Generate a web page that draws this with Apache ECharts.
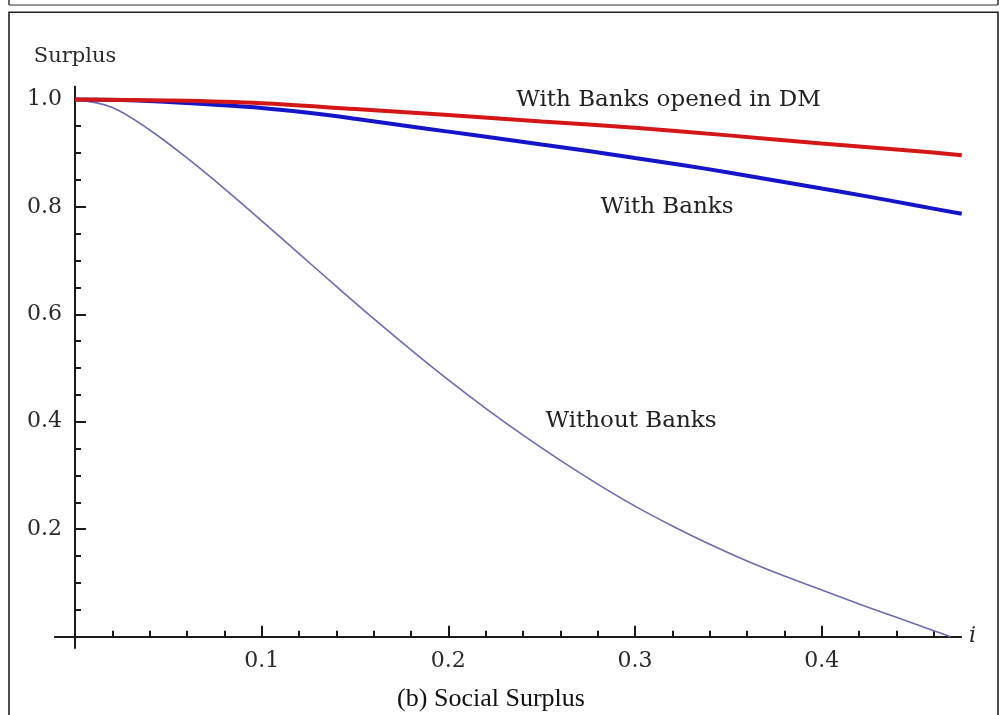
<!DOCTYPE html>
<html>
<head>
<meta charset="utf-8">
<title>Social Surplus</title>
<script src="https://cdn.jsdelivr.net/npm/echarts@6/dist/echarts.min.js"></script>
<style>
  html, body { margin: 0; padding: 0; background: #fff; }
  #chart { width: 1000px; height: 715px; }
</style>
</head>
<body>
<div id="chart"></div>
<script>
// Social surplus as a function of the nominal interest rate i
const iWithoutBanks = [0, 0.02, 0.04, 0.06, 0.08, 0.10, 0.12, 0.14, 0.16, 0.18, 0.20, 0.22, 0.24, 0.26, 0.28, 0.30, 0.32, 0.34, 0.36, 0.38, 0.40, 0.42, 0.44, 0.46, 0.469];
const surplusWithoutBanks = [1.000, 0.985, 0.943, 0.891, 0.834, 0.774, 0.713, 0.652, 0.592, 0.534, 0.478, 0.425, 0.375, 0.328, 0.284, 0.243, 0.206, 0.172, 0.141, 0.113, 0.087, 0.061, 0.036, 0.011, 0.000];

const iWithBanks = [0, 0.025, 0.05, 0.075, 0.10, 0.125, 0.15, 0.175, 0.20, 0.225, 0.25, 0.275, 0.30, 0.325, 0.35, 0.375, 0.40, 0.425, 0.45, 0.475];
const surplusWithBanks = [1.000, 0.999, 0.995, 0.990, 0.984, 0.975, 0.964, 0.952, 0.940, 0.928, 0.916, 0.904, 0.891, 0.878, 0.864, 0.849, 0.834, 0.819, 0.803, 0.787];

const iBanksDM = [0, 0.05, 0.10, 0.15, 0.20, 0.25, 0.30, 0.35, 0.40, 0.45, 0.475];
const surplusBanksDM = [1.000, 0.998, 0.993, 0.982, 0.971, 0.959, 0.947, 0.933, 0.918, 0.904, 0.896];

// Tick positions
const xMajorTicks = [0.1, 0.2, 0.3, 0.4];
const xMinorTicks = [0.02, 0.04, 0.06, 0.08, 0.12, 0.14, 0.16, 0.18, 0.22, 0.24, 0.26, 0.28, 0.32, 0.34, 0.36, 0.38, 0.42, 0.44, 0.46];
const yMajorTicks = [0.2, 0.4, 0.6, 0.8, 1.0];
const yMinorTicks = [0.05, 0.1, 0.15, 0.25, 0.3, 0.35, 0.45, 0.5, 0.55, 0.65, 0.7, 0.75, 0.85, 0.9, 0.95];

// Curve annotations: text and the (i, surplus) point it is centred on
const curveNotes = [
  { text: 'With Banks opened in DM', at: [0.3179, 0.9987] },
  { text: 'With Banks', at: [0.3171, 0.7997] },
  { text: 'Without Banks', at: [0.2978, 0.401] }
];

const pairs = (xs, ys) => xs.map((x, k) => [x, ys[k]]);

const ink = '#1a1a1a';
const serif = 'DejaVu Serif';
const X_MIN = -0.0107, X_MAX = 0.4746, Y_MIN = -0.0205, Y_MAX = 1.0236;

const axisLineStyle = { color: ink, width: 2 };

const chart = echarts.init(document.getElementById('chart'));
chart.setOption({
  animation: false,
  backgroundColor: '#fff',
  grid: { left: 55, right: 39, top: 86.7, bottom: 67.3, containLabel: false },
  xAxis: [
    {
      type: 'value', min: X_MIN, max: X_MAX, position: 'bottom',
      axisLine: { show: true, onZero: true, lineStyle: axisLineStyle },
      axisTick: { show: true, inside: true, length: 11, customValues: xMajorTicks, lineStyle: { color: ink, width: 2 } },
      axisLabel: { show: true, customValues: xMajorTicks, margin: 3, color: '#2a2a2a', fontFamily: serif, fontSize: 22, formatter: v => v.toFixed(1) },
      splitLine: { show: false },
      name: 'i', nameLocation: 'end', nameGap: 8,
      nameTextStyle: { fontFamily: serif, fontStyle: 'italic', fontSize: 22, color: '#2a2a2a', verticalAlign: 'middle' }
    },
    {
      type: 'value', min: X_MIN, max: X_MAX, position: 'bottom',
      axisLine: { show: true, onZero: true, lineStyle: axisLineStyle },
      axisTick: { show: true, inside: true, length: 6, customValues: xMinorTicks, lineStyle: { color: ink, width: 2 } },
      axisLabel: { show: false },
      splitLine: { show: false }
    }
  ],
  yAxis: [
    {
      type: 'value', min: Y_MIN, max: Y_MAX, position: 'left',
      axisLine: { show: true, onZero: true, lineStyle: axisLineStyle },
      axisTick: { show: true, inside: true, length: 11, customValues: yMajorTicks, lineStyle: { color: ink, width: 2 } },
      axisLabel: { show: true, customValues: yMajorTicks, margin: -7, color: '#2a2a2a', fontFamily: serif, fontSize: 22, formatter: v => v.toFixed(1) },
      splitLine: { show: false },
      name: 'Surplus', nameLocation: 'end', nameGap: 20,
      nameTextStyle: { fontFamily: serif, fontSize: 21, color: '#2a2a2a', align: 'center' }
    },
    {
      type: 'value', min: Y_MIN, max: Y_MAX, position: 'left',
      axisLine: { show: true, onZero: true, lineStyle: axisLineStyle },
      axisTick: { show: true, inside: true, length: 6, customValues: yMinorTicks, lineStyle: { color: ink, width: 2 } },
      axisLabel: { show: false },
      splitLine: { show: false }
    }
  ],
  series: [
    {
      name: 'Without Banks', type: 'line', xAxisIndex: 0, yAxisIndex: 0,
      data: pairs(iWithoutBanks, surplusWithoutBanks),
      smooth: 0.35, showSymbol: false, z: 3,
      lineStyle: { color: '#6b6bb0', width: 1.6 }
    },
    {
      name: 'With Banks', type: 'line', xAxisIndex: 0, yAxisIndex: 0,
      data: pairs(iWithBanks, surplusWithBanks),
      smooth: 0.35, showSymbol: false, z: 4,
      lineStyle: { color: '#1414c8', width: 4 }
    },
    {
      name: 'With Banks opened in DM', type: 'line', xAxisIndex: 0, yAxisIndex: 0,
      data: pairs(iBanksDM, surplusBanksDM),
      smooth: 0.35, showSymbol: false, z: 5,
      lineStyle: { color: '#d41616', width: 4 }
    }
  ]
});

// Panel frame, caption and curve annotations
function drawOverlay() {
  const notes = curveNotes.map(n => {
    const p = chart.convertToPixel({ xAxisIndex: 0, yAxisIndex: 0 }, n.at);
    return {
      type: 'text', x: p[0], y: p[1], z: 10,
      style: { text: n.text, fontFamily: serif, fontSize: 23, fill: '#222', align: 'center', verticalAlign: 'middle' }
    };
  });
  chart.setOption({
    graphic: [
      { type: 'line', shape: { x1: 9, y1: 5, x2: 998, y2: 5 }, style: { stroke: '#777', lineWidth: 1.5 } },
      { type: 'line', shape: { x1: 9, y1: 0, x2: 9, y2: 5 }, style: { stroke: '#333', lineWidth: 1.5 } },
      { type: 'line', shape: { x1: 998, y1: 0, x2: 998, y2: 5 }, style: { stroke: '#333', lineWidth: 1.5 } },
      { type: 'rect', shape: { x: 9, y: 12.3, width: 989, height: 720 }, style: { fill: 'none', stroke: '#222', lineWidth: 1.6 } },
      {
        type: 'text', x: 491, y: 699, z: 10,
        style: { text: '(b) Social Surplus', fontFamily: 'Liberation Serif', fontSize: 26, fill: '#111', align: 'center', verticalAlign: 'middle' }
      },
      ...notes
    ]
  });
}
drawOverlay();
</script>
</body>
</html>
